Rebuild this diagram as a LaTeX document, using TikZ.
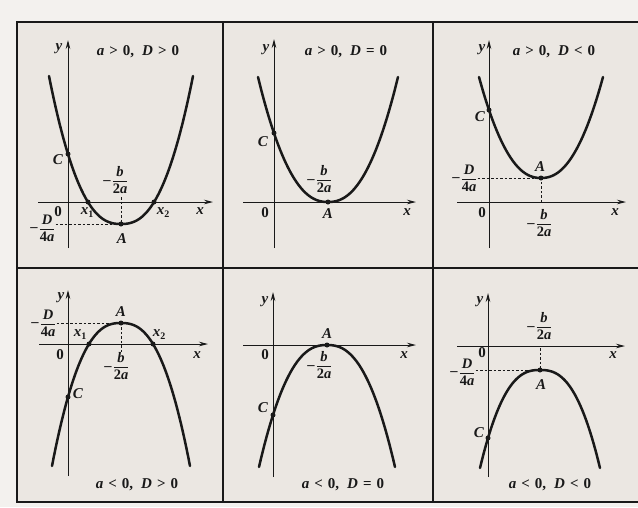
\documentclass[tikz,border=0pt]{standalone}
\usepackage{amsmath}
\usepackage{fontspec}
\setmainfont{Liberation Serif}
\usetikzlibrary{arrows.meta}
\definecolor{outbg}{RGB}{243,241,238}
\definecolor{inbg}{RGB}{235,231,226}
\definecolor{ink}{RGB}{25,25,25}
\tikzset{
 axisline/.style={ink, line width=0.9pt, -{Stealth[length=9pt,width=4.5pt]}},
 curve/.style={ink, line width=2.5pt, line cap=round},
 guide/.style={ink, line width=0.8pt, dash pattern=on 2.5pt off 2pt},
 frameline/.style={ink, line width=1.6pt},
 dot/.style={circle, fill=ink, inner sep=0pt, minimum size=5pt},
 lbl/.style={inner sep=0pt, text=ink, font=\fontsize{15}{17}\selectfont\bfseries\boldmath},
 ttl/.style={inner sep=0pt, text=ink, font=\fontsize{15}{17}\selectfont\bfseries\boldmath},
 frc/.style={inner sep=0pt, text=ink, font=\fontsize{14.5}{16}\selectfont\bfseries\boldmath},
}
\newcommand\fr[2]{$\text{\raisebox{0.5pt}{–}}\mkern1mu\dfrac{\raisebox{-2.5pt}{#1}}{\raisebox{2pt}{#2}}$}
\newcommand\cnd[3]{\textit{a}\hspace{5pt}#1\hspace{5pt}0,\hspace{8pt}\textit{D}\hspace{5pt}#2\hspace{5pt}0}
\newcommand\xs[1]{\textit{x}\raisebox{-3pt}{\fontsize{10}{10}\selectfont #1}}
\newcommand\parabup[5]{\draw[curve] plot[domain=-#3:#3, samples=80, smooth] ({#1+\x},{#2-#4*((abs(\x)+0.001)/#3)^#5});}
\newcommand\parabdn[5]{\draw[curve] plot[domain=-#3:#3, samples=80, smooth] ({#1+\x},{#2+#4*((abs(\x)+0.001)/#3)^#5});}
\begin{document}
\begin{tikzpicture}[x=1pt,y=-1pt]
\useasboundingbox (0,0) rectangle (638,507);
\fill[outbg] (0,0) rectangle (638,507);
\fill[inbg] (17,22) rectangle (638,502);
% frame
\draw[frameline] (638,22) -- (17,22) -- (17,502) -- (638,502);
\draw[frameline] (17,268) -- (638,268);
\draw[frameline] (223,22) -- (223,502);
\draw[frameline] (433,22) -- (433,502);

% ---------- Panel 1: a>0, D>0
\draw[axisline] (38,202) -- (213,202);
\draw[axisline] (68,248) -- (68,40);
\node[dot] (p1A) at (121,224) {};
\node[dot] (p1C) at (68,154) {};
\node[dot] (p1r1) at (88,202) {};
\node[dot] (p1r2) at (154,202) {};
\node[frc] (p1D) at (43,229) {\fr{\textit{D}}{4\textit{a}}};
\node[frc] (p1b) at (116,181) {\fr{\textit{b}}{2\textit{a}}};
\coordinate (p1v) at (121,197);
\draw[guide] (p1D.east |- p1A.center) -- (p1A.center);
\draw[guide] (p1v) -- (p1A.center);
\parabup{121}{224}{72}{148}{2.45}
\node[lbl] (p1y) at (59,49) {\textit{y}};
\node[ttl] (p1t) at (138,52) {\cnd{>}{>}{}};
\node[lbl] (p1Cl) at (58,160) {\textit{C}};
\node[lbl] (p1o) at (58,212) {0};
\node[lbl] (p1x1) at (87,213) {\xs{1}};
\node[lbl] (p1x2) at (163,213) {\xs{2}};
\node[lbl] (p1x) at (200,211) {\textit{x}};
\node[lbl] (p1Al) at (122,239) {\textit{A}};

% ---------- Panel 2: a>0, D=0
\draw[axisline] (243,202) -- (416,202);
\draw[axisline] (274,248) -- (274,39);
\node[dot] (p2A) at (328,202) {};
\node[dot] (p2C) at (274,133) {};
\parabup{328}{202}{70}{125}{2.3}
\node[frc] (p2b) at (320,180) {\fr{\textit{b}}{2\textit{a}}};
\node[lbl] (p2y) at (266,50) {\textit{y}};
\node[ttl] (p2t) at (346,52) {\cnd{>}{=}{}};
\node[lbl] (p2Cl) at (263,142) {\textit{C}};
\node[lbl] (p2o) at (265,213) {0};
\node[lbl] (p2x) at (407,212) {\textit{x}};
\node[lbl] (p2Al) at (328,214) {\textit{A}};

% ---------- Panel 3: a>0, D<0
\draw[axisline] (457,202) -- (626,202);
\draw[axisline] (489,248) -- (489,40);
\node[dot] (p3A) at (541,178) {};
\node[dot] (p3C) at (489,110) {};
\node[frc] (p3D) at (465,179) {\fr{\textit{D}}{4\textit{a}}};
\node[frc] (p3b) at (540,224) {\fr{\textit{b}}{2\textit{a}}};
\coordinate (p3v) at (541,202);
\draw[guide] (p3D.east |- p3A.center) -- (p3A.center);
\draw[guide] (p3v) -- (p3A.center);
\parabup{541}{178}{62}{101}{2.25}
\node[lbl] (p3y) at (482,50) {\textit{y}};
\node[ttl] (p3t) at (554,52) {\cnd{>}{<}{}};
\node[lbl] (p3Cl) at (480,117) {\textit{C}};
\node[lbl] (p3Al) at (540,167) {\textit{A}};
\node[lbl] (p3o) at (482,213) {0};
\node[lbl] (p3x) at (615,212) {\textit{x}};

% ---------- Panel 4: a<0, D>0
\draw[axisline] (39,344) -- (208,344);
\draw[axisline] (68,476) -- (68,290);
\node[dot] (p4A) at (121,323) {};
\node[dot] (p4C) at (68,397) {};
\node[dot] (p4r1) at (89,344) {};
\node[dot] (p4r2) at (153,344) {};
\node[frc] (p4D) at (44,324) {\fr{\textit{D}}{4\textit{a}}};
\node[frc] (p4b) at (117,367) {\fr{\textit{b}}{2\textit{a}}};
\coordinate (p4v) at (121,352);
\draw[guide] (p4D.east |- p4A.center) -- (p4A.center);
\draw[guide] (p4v) -- (p4A.center);
\parabdn{121}{323}{69}{143}{2.5}
\node[lbl] (p4y) at (61,298) {\textit{y}};
\node[lbl] (p4Al) at (121,312) {\textit{A}};
\node[lbl] (p4x1) at (80,335) {\xs{1}};
\node[lbl] (p4x2) at (159,335) {\xs{2}};
\node[lbl] (p4o) at (60,355) {0};
\node[lbl] (p4x) at (197,355) {\textit{x}};
\node[lbl] (p4Cl) at (78,394) {\textit{C}};
\node[ttl] (p4t) at (137,485) {\cnd{<}{>}{}};

% ---------- Panel 5: a<0, D=0
\draw[axisline] (243,345) -- (416,345);
\draw[axisline] (273,477) -- (273,292);
\node[dot] (p5A) at (327,345) {};
\node[dot] (p5C) at (273,415) {};
\parabdn{327}{345}{68}{122}{2.41}
\node[frc] (p5b) at (320,366) {\fr{\textit{b}}{2\textit{a}}};
\node[lbl] (p5y) at (265,302) {\textit{y}};
\node[lbl] (p5Al) at (327,334) {\textit{A}};
\node[lbl] (p5o) at (265,355) {0};
\node[lbl] (p5x) at (404,355) {\textit{x}};
\node[lbl] (p5Cl) at (263,408) {\textit{C}};
\node[ttl] (p5t) at (343,485) {\cnd{<}{=}{}};

% ---------- Panel 6: a<0, D<0
\draw[axisline] (457,346) -- (625,346);
\draw[axisline] (488,477) -- (488,293);
\node[dot] (p6A) at (540,370) {};
\node[dot] (p6C) at (488,438) {};
\node[frc] (p6D) at (463,373) {\fr{\textit{D}}{4\textit{a}}};
\node[frc] (p6b) at (540,327) {\fr{\textit{b}}{2\textit{a}}};
\coordinate (p6v) at (540,348);
\draw[guide] (p6D.east |- p6A.center) -- (p6A.center);
\draw[guide] (p6v) -- (p6A.center);
\parabdn{540}{370}{60}{98}{2.55}
\node[lbl] (p6y) at (480,302) {\textit{y}};
\node[lbl] (p6o) at (482,353) {0};
\node[lbl] (p6x) at (613,355) {\textit{x}};
\node[lbl] (p6Al) at (541,385) {\textit{A}};
\node[lbl] (p6Cl) at (479,433) {\textit{C}};
\node[ttl] (p6t) at (550,485) {\cnd{<}{<}{}};
\end{tikzpicture}
\end{document}
